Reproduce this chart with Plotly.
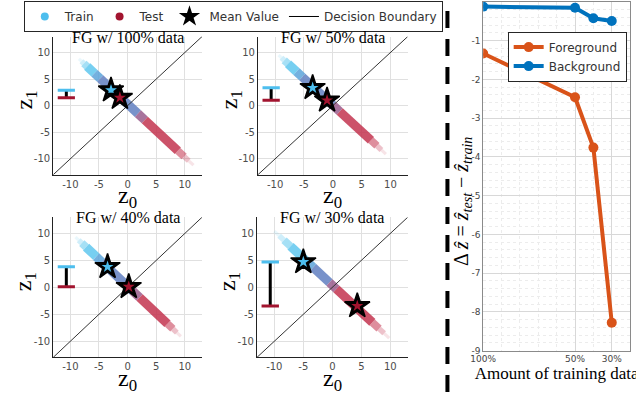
import plotly.graph_objects as go

W, H = 636, 397

# ---------------- data ----------------
panel_titles = ["FG w/ 100% data", "FG w/ 50% data", "FG w/ 40% data", "FG w/ 30% data"]
train_mean_z0 = [-2.9, -3.5, -3.5, -5.0]
train_mean_z1 = [2.9, 3.35, 3.8, 4.7]
test_mean_z0 = [-1.35, -1.0, 0.2, 4.3]
test_mean_z1 = [1.5, 1.0, 0.1, -3.45]
# extent of the latent clouds along the anti-diagonal (z0 coordinate)
train_band_start = [-8.5, -9.4, -9.1, -10.0]
overlap_start = [-5.3, -5.8, -5.0, -3.8]
overlap_end = [2.4, 0.6, 1.5, 0.1]
test_band_end = [11.5, 9.2, 9.3, 9.8]
band_offset = [0.3, 0.1, 0.2, 0.4]

amount_labels = ["100%", "50%", "40%", "30%"]
amount_vals = [100, 50, 40, 30]
fg_delta = [-1.33, -2.46, -3.76, -8.28]
bg_delta = [-0.12, -0.15, -0.42, -0.49]

scatter_ticks = [-10, -5, 0, 5, 10]
scatter_ticktext = ["-10", "-5", "0", "5", "10"]
delta_ticks = [0, -1, -2, -3, -4, -5, -6, -7, -8, -9]
delta_ticktext = ["0", "-1", "-2", "-3", "-4", "-5", "-6", "-7", "-8", "-9"]
amount_ticks = [100, 50, 30]
amount_ticktext = ["100%", "50%", "30%"]

CYAN = "#4DBEEE"
RED = "#A2142F"
BAND_CYAN = "#55C4EE"
BAND_RED = "#C4344F"
BAND_BLUE = "#6A87C5"
MIX_CB = "#5CA4DA"
MIX_BR = "#9A5C8C"
ORANGE = "#D95319"
BLUE = "#0072BD"
SERIF = "Liberation Serif"
SANS = "DejaVu Sans"

# panel pixel boxes (x0, x1, ytop, ybottom)
boxes = [(41, 193, 37, 177), (250, 403, 37, 177), (41, 193, 220, 362), (249, 403, 220, 362)]

fig = go.Figure()

def px_dom(a, b):
    return [a / W, b / W]

def py_dom(top, bottom):
    return [(H - bottom) / H, (H - top) / H]

def seg(k, a, b, color, width, opacity):
    xa = "x" if k == 0 else f"x{k+1}"
    ya = "y" if k == 0 else f"y{k+1}"
    off = band_offset[k]
    fig.add_trace(go.Scatter(x=[a, b], y=[-a + off, -b + off], mode="lines",
                             line=dict(color=color, width=width), opacity=opacity,
                             xaxis=xa, yaxis=ya, showlegend=False, hoverinfo="skip"))

def tip(k, a, b, color, full_w, full_op):
    """tapered tip from a (faint end) to b (full end)"""
    steps = [(0.0, 0.3, 0.35, 0.15), (0.3, 0.6, 0.6, 0.35), (0.6, 1.0, 0.85, 0.65)]
    for f0, f1, wf, of in steps:
        seg(k, a + (b - a) * f0, a + (b - a) * f1, color, full_w * wf, full_op * of / 0.65 * 0.65)

BW = 9
for k in range(4):
    xa = "x" if k == 0 else f"x{k+1}"
    ya = "y" if k == 0 else f"y{k+1}"
    ts, os_, oe, te = train_band_start[k], overlap_start[k], overlap_end[k], test_band_end[k]
    # train-only part (cyan), tapering at its tip
    tlen = os_ - ts
    tip(k, ts, ts + tlen * 0.45, BAND_CYAN, BW, 0.8)
    seg(k, ts + tlen * 0.45, os_ - 0.5, BAND_CYAN, BW, 0.8)
    seg(k, os_ - 0.5, os_ + 0.5, MIX_CB, BW, 0.85)
    # overlap part
    seg(k, os_ + 0.5, oe - 0.6, BAND_BLUE, BW, 0.9)
    seg(k, oe - 0.6, oe + 0.6, MIX_BR, BW, 0.85)
    # test-only part (red), tapering at its tip
    rlen = te - oe
    seg(k, oe + 0.6, te - rlen * 0.3, BAND_RED, BW, 0.85)
    tip(k, te, te - rlen * 0.3, BAND_RED, BW, 0.85)

    # decision boundary
    fig.add_trace(go.Scatter(x=[-13, 13], y=[-13, 13], mode="lines",
                             line=dict(color="#333333", width=1),
                             xaxis=xa, yaxis=ya, showlegend=False, hoverinfo="skip"))
    # gap indicator
    fig.add_trace(go.Scatter(x=[-10.7, -10.7], y=[train_mean_z1[k], test_mean_z1[k]], mode="lines",
                             line=dict(color="black", width=3), xaxis=xa, yaxis=ya,
                             showlegend=False, hoverinfo="skip"))
    fig.add_trace(go.Scatter(x=[-12.2, -9.2], y=[train_mean_z1[k]] * 2, mode="lines",
                             line=dict(color=CYAN, width=3), xaxis=xa, yaxis=ya,
                             showlegend=False, hoverinfo="skip"))
    fig.add_trace(go.Scatter(x=[-12.2, -9.2], y=[test_mean_z1[k]] * 2, mode="lines",
                             line=dict(color=RED, width=3), xaxis=xa, yaxis=ya,
                             showlegend=False, hoverinfo="skip"))
    # mean stars
    for mx, my, c in [(train_mean_z0[k], train_mean_z1[k], CYAN), (test_mean_z0[k], test_mean_z1[k], RED)]:
        fig.add_trace(go.Scatter(x=[mx], y=[my], mode="markers",
                                 marker=dict(symbol="star", size=19, color="black",
                                             line=dict(color="black", width=1.5)),
                                 xaxis=xa, yaxis=ya, showlegend=False, hoverinfo="skip"))
        fig.add_trace(go.Scatter(x=[mx], y=[my], mode="markers",
                                 marker=dict(symbol="star", size=9, color=c, line=dict(width=0)),
                                 xaxis=xa, yaxis=ya, showlegend=False, hoverinfo="skip"))

    x0, x1, yt, yb = boxes[k]
    axis_common = dict(range=[-13, 13], tickvals=scatter_ticks, ticktext=scatter_ticktext,
                       showgrid=True, gridcolor="#e0e0e0", gridwidth=1, zeroline=False,
                       showline=True, linecolor="#222222", linewidth=1, ticks="",
                       tickfont=dict(family=SANS, size=10, color="#4d4d4d"), fixedrange=True)
    fig.layout[f"xaxis{'' if k == 0 else k+1}"] = dict(domain=px_dom(x0, x1),
                                                     anchor=ya, **axis_common)
    fig.layout[f"yaxis{'' if k == 0 else k+1}"] = dict(domain=py_dom(yt, yb),
                                                     anchor=xa, **axis_common)
    cx = (x0 + x1) / 2 / W
    fig.add_annotation(text=panel_titles[k], x=cx, y=(H - (yt + 0.5)) / H, xref="paper", yref="paper",
                       showarrow=False, font=dict(family=SERIF, size=16, color="black"),
                       xanchor="center", yanchor="middle")
    fig.add_annotation(text="z<sub>0</sub>", x=cx, y=(H - (yb + 23)) / H, xref="paper", yref="paper",
                       showarrow=False, font=dict(family=SERIF, size=24, color="black"),
                       xanchor="center", yanchor="middle")
    fig.add_annotation(text="z<sub>1</sub>", x=(x0 - 28) / W, y=(H - ((yt + yb) / 2 - 6)) / H,
                       xref="paper", yref="paper", textangle=-90,
                       showarrow=False, font=dict(family=SERIF, size=24, color="black"),
                       xanchor="center", yanchor="middle")

# top legend dummy entries
fig.add_trace(go.Scatter(x=[None], y=[None], mode="markers", name="Train",
                         marker=dict(color=CYAN, size=8), legend="legend"))
fig.add_trace(go.Scatter(x=[None], y=[None], mode="markers", name="Test",
                         marker=dict(color=RED, size=8), legend="legend"))
fig.add_trace(go.Scatter(x=[None], y=[None], mode="markers", name="Mean Value",
                         marker=dict(color="black", size=16, symbol="star"), legend="legend"))
fig.add_trace(go.Scatter(x=[None], y=[None], mode="lines", name="Decision Boundary",
                         line=dict(color="black", width=1), legend="legend"))

# right plot
fig.add_trace(go.Scatter(x=amount_vals, y=fg_delta, mode="lines+markers", name="Foreground",
                         line=dict(color=ORANGE, width=4), marker=dict(color=ORANGE, size=10),
                         xaxis="x5", yaxis="y5", legend="legend2"))
fig.add_trace(go.Scatter(x=amount_vals, y=bg_delta, mode="lines+markers", name="Background",
                         line=dict(color=BLUE, width=4), marker=dict(color=BLUE, size=10),
                         xaxis="x5", yaxis="y5", legend="legend2"))

fig.update_layout(
    xaxis5=dict(domain=px_dom(480, 630), anchor="y5", range=[100, 20],
                tickvals=amount_ticks, ticktext=amount_ticktext,
                showgrid=True, gridcolor="#d8d8d8", zeroline=False,
                showline=True, linecolor="#8a8a8a", mirror=True, ticks="",
                minor=dict(dtick=10, tick0=0, showgrid=True, gridcolor="#ececec", griddash="dot"),
                tickfont=dict(family=SANS, size=9, color="#444444"),
                title=dict(text="Amount of training data", font=dict(family=SERIF, size=17, color="black"),
                           standoff=2)),
    yaxis5=dict(domain=py_dom(2, 355), anchor="x5", range=[-9, 0],
                tickvals=delta_ticks, ticktext=delta_ticktext,
                showgrid=True, gridcolor="#d8d8d8", zeroline=False,
                showline=True, linecolor="#8a8a8a", mirror=True, ticks="",
                minor=dict(dtick=0.2, showgrid=True, gridcolor="#ececec", griddash="dot"),
                tickfont=dict(family=SANS, size=9, color="#444444")),
)

fig.add_annotation(text="\u0394 <i>\u1e91</i> = <i>\u1e91</i><sub><i>test</i></sub> \u2212 <i>\u1e91</i><sub><i>train</i></sub>",
                   x=459 / W, y=(H - 204) / H, xref="paper", yref="paper", textangle=-90,
                   showarrow=False, font=dict(family=SERIF, size=20, color="black"),
                   xanchor="center", yanchor="middle")

# dashed separator
fig.add_shape(type="line", xref="paper", yref="paper", x0=443.5 / W, x1=443.5 / W, y0=0, y1=(H - 6) / H,
              line=dict(color="black", width=4, dash="17px,11px"))

fig.update_layout(
    width=W, height=H, margin=dict(l=0, r=0, t=0, b=0),
    paper_bgcolor="white", plot_bgcolor="white",
    font=dict(family=SANS, color="#262626"),
    legend=dict(orientation="h", x=11 / W, y=1 - 1 / H, xanchor="left", yanchor="top",
                bordercolor="#262626", borderwidth=1, bgcolor="white",
                font=dict(family=SANS, size=12, color="#333333")),
    legend2=dict(orientation="v", x=505 / W, y=1 - 32 / H, xanchor="left", yanchor="top",
                 bordercolor="#262626", borderwidth=1, bgcolor="white", tracegroupgap=0,
                 font=dict(family=SANS, size=12, color="#333333")),
)

fig.write_html("out.html")
